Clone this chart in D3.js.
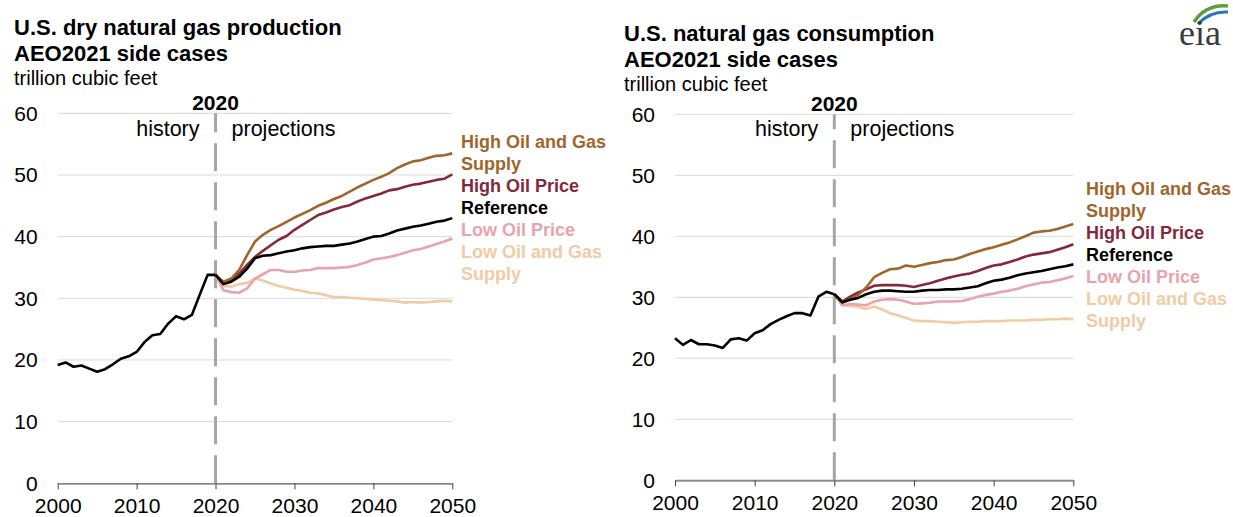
<!DOCTYPE html>
<html>
<head>
<meta charset="utf-8">
<script src="https://cdn.jsdelivr.net/npm/d3@7"></script>
<style>
  body { margin: 0; background: #fff; }
  svg { font-family: "Liberation Sans", Arial, sans-serif; }
</style>
</head>
<body>
<div id="chart"></div>
<script>
// history years and projection years
const histYears = d3.range(2000, 2021);
const projYears = d3.range(2021, 2051);
const xTicks = [2000, 2010, 2020, 2030, 2040, 2050];
const yTicks = [0, 10, 20, 30, 40, 50, 60];

const caseNames = ["High Oil and Gas Supply", "High Oil Price", "Reference", "Low Oil Price", "Low Oil and Gas Supply"];
const caseColors = ["#A0652B", "#82293B", "#000000", "#E9A3AB", "#F1CBA4"];
// legend lines (wrapped as in the picture), index into caseNames
const legendLines = [
  ["High Oil and Gas", 0], ["Supply", 0], ["High Oil Price", 1], ["Reference", 2],
  ["Low Oil Price", 3], ["Low Oil and Gas", 4], ["Supply", 4]
];

// production, trillion cubic feet
const prodHistory = [19.2, 19.6, 18.9, 19.1, 18.6, 18.1, 18.5, 19.3, 20.2, 20.6, 21.3, 22.9, 24.0, 24.2, 25.9, 27.1, 26.6, 27.3, 30.6, 33.8, 33.8];
const prodHighOG = [32.7, 33.2, 34.6, 37.0, 39.2, 40.3, 41.1, 41.7, 42.4, 43.1, 43.7, 44.3, 45.0, 45.5, 46.1, 46.6, 47.3, 48.0, 48.6, 49.2, 49.7, 50.3, 51.1, 51.7, 52.2, 52.4, 52.8, 53.1, 53.2, 53.5];
const prodHighPrice = [32.5, 33.1, 34.0, 35.4, 36.7, 37.7, 38.6, 39.5, 40.1, 41.1, 41.9, 42.7, 43.5, 43.9, 44.4, 44.8, 45.1, 45.7, 46.2, 46.6, 47.0, 47.5, 47.7, 48.1, 48.4, 48.6, 48.9, 49.2, 49.4, 50.1];
const prodReference = [32.3, 32.7, 33.5, 34.8, 36.5, 36.9, 37.0, 37.3, 37.6, 37.8, 38.1, 38.3, 38.4, 38.5, 38.5, 38.7, 38.9, 39.2, 39.6, 40.0, 40.1, 40.5, 41.0, 41.3, 41.6, 41.8, 42.1, 42.4, 42.6, 43.0];
const prodLowPrice = [31.3, 31.0, 30.9, 31.6, 33.2, 33.9, 34.6, 34.6, 34.3, 34.3, 34.5, 34.6, 34.9, 34.9, 34.9, 35.0, 35.1, 35.4, 35.8, 36.3, 36.5, 36.7, 37.0, 37.4, 37.8, 38.0, 38.4, 38.8, 39.2, 39.7];
const prodLowOG = [32.0, 31.9, 32.3, 32.5, 33.2, 32.9, 32.4, 32.0, 31.7, 31.4, 31.2, 30.9, 30.8, 30.5, 30.2, 30.2, 30.1, 30.0, 29.9, 29.8, 29.7, 29.6, 29.5, 29.3, 29.4, 29.3, 29.4, 29.5, 29.6, 29.5];

// consumption, trillion cubic feet
const consHistory = [23.3, 22.2, 23.0, 22.3, 22.3, 22.1, 21.7, 23.1, 23.3, 22.9, 24.1, 24.6, 25.6, 26.3, 26.9, 27.4, 27.4, 27.0, 30.1, 30.9, 30.5];
const consHighOG = [29.1, 29.7, 30.4, 31.6, 33.3, 34.0, 34.6, 34.7, 35.2, 35.0, 35.3, 35.6, 35.8, 36.1, 36.2, 36.6, 37.1, 37.5, 37.9, 38.2, 38.6, 39.0, 39.5, 40.0, 40.6, 40.8, 40.9, 41.2, 41.6, 42.0];
const consHighPrice = [29.3, 30.1, 30.8, 31.3, 31.9, 32.0, 32.0, 32.0, 31.9, 31.7, 32.0, 32.3, 32.7, 33.1, 33.4, 33.7, 33.9, 34.3, 34.8, 35.2, 35.4, 35.8, 36.2, 36.7, 37.0, 37.2, 37.4, 37.8, 38.2, 38.7];
const consReference = [29.2, 29.6, 29.9, 30.5, 30.9, 31.1, 31.1, 31.0, 30.9, 30.9, 31.1, 31.2, 31.2, 31.3, 31.3, 31.4, 31.6, 31.8, 32.3, 32.7, 32.9, 33.2, 33.6, 33.9, 34.1, 34.3, 34.6, 34.9, 35.1, 35.4];
const consLowPrice = [28.7, 28.9, 28.8, 28.7, 29.3, 29.6, 29.7, 29.6, 29.3, 28.9, 29.0, 29.1, 29.3, 29.3, 29.3, 29.4, 29.7, 30.1, 30.4, 30.6, 30.9, 31.1, 31.4, 31.8, 32.1, 32.4, 32.5, 32.8, 33.1, 33.5];
const consLowOG = [28.7, 28.6, 28.4, 28.1, 28.5, 28.0, 27.4, 27.0, 26.6, 26.2, 26.1, 26.1, 26.0, 25.9, 25.8, 25.9, 26.0, 26.0, 26.1, 26.1, 26.1, 26.2, 26.2, 26.2, 26.3, 26.3, 26.4, 26.4, 26.5, 26.4];

const W = 1233, H = 517;
const svg = d3.select("#chart").append("svg").attr("width", W).attr("height", H);

const panels = [
  {
    title: ["U.S. dry natural gas production", "AEO2021 side cases"],
    titleX: 14, titleY: 35,
    x: [57.7, 452.3], y: [483.3, 113.3],
    history: prodHistory,
    cases: [prodHighOG, prodHighPrice, prodReference, prodLowPrice, prodLowOG],
    legendX: 461, legendY: 148,
    axisColor: "#595959", axisWidth: 1.3
  },
  {
    title: ["U.S. natural gas consumption", "AEO2021 side cases"],
    titleX: 624, titleY: 41,
    x: [675, 1073.3], y: [480.3, 114.3],
    history: consHistory,
    cases: [consHighOG, consHighPrice, consReference, consLowPrice, consLowOG],
    legendX: 1086, legendY: 195,
    axisColor: "#8C8C8C", axisWidth: 2
  }
];

panels.forEach(p => {
  const g = svg.append("g");
  const x = d3.scaleLinear().domain([2000, 2050]).range(p.x);
  const y = d3.scaleLinear().domain([0, 60]).range(p.y);

  // Titles
  p.title.forEach((t, i) => {
    g.append("text")
      .attr("x", p.titleX).attr("y", p.titleY + i * 26)
      .attr("font-size", 22).attr("font-weight", "bold").attr("fill", "#000")
      .text(t);
  });
  g.append("text")
    .attr("x", p.titleX).attr("y", p.titleY + 50)
    .attr("font-size", 20).attr("fill", "#000")
    .text("trillion cubic feet");

  // Gridlines
  g.append("g").selectAll("line")
    .data(yTicks.filter(d => d > 0))
    .join("line")
    .attr("x1", p.x[0]).attr("x2", p.x[1])
    .attr("y1", d => y(d)).attr("y2", d => y(d))
    .attr("stroke", "#D9D9D9").attr("stroke-width", 1);

  // Y axis labels
  const yAxis = g.append("g")
    .attr("transform", `translate(${p.x[0]},0)`)
    .call(d3.axisLeft(y).tickValues(yTicks).tickSize(0).tickPadding(20));
  yAxis.select(".domain").remove();
  yAxis.selectAll("text").attr("font-size", 21).attr("fill", "#000")
    .attr("font-family", "\"Liberation Sans\", Arial, sans-serif");

  // X axis
  const xAxis = g.append("g")
    .attr("transform", `translate(0,${y(0)})`)
    .call(d3.axisBottom(x).tickValues(xTicks).tickFormat(d3.format("d")).tickSize(6).tickPadding(9).tickSizeOuter(0));
  xAxis.select(".domain").attr("stroke", p.axisColor).attr("stroke-width", p.axisWidth);
  xAxis.selectAll(".tick line").attr("stroke", "#404040");
  xAxis.selectAll("text").attr("font-size", 21).attr("fill", "#000")
    .attr("font-family", "\"Liberation Sans\", Arial, sans-serif");

  // 2020 divider, dashes laid out from the axis upward
  g.append("line")
    .attr("x1", x(2020)).attr("x2", x(2020))
    .attr("y1", y(0)).attr("y2", y(60))
    .attr("stroke", "#A6A6A6").attr("stroke-width", 3)
    .attr("stroke-dasharray", "28,11");

  g.append("text")
    .attr("x", x(2020)).attr("y", y(60) - 3)
    .attr("text-anchor", "middle").attr("font-size", 21).attr("font-weight", "bold")
    .text("2020");
  g.append("text")
    .attr("x", x(2020) - 16).attr("y", 136)
    .attr("text-anchor", "end").attr("font-size", 21.5)
    .text("history");
  g.append("text")
    .attr("x", x(2020) + 16).attr("y", 136)
    .attr("font-size", 21.5)
    .text("projections");

  const line = d3.line().x(d => x(d[0])).y(d => y(d[1]));
  const lastHist = [2020, p.history[p.history.length - 1]];

  // Cases: draw reference last so it sits on top
  const order = [4, 3, 1, 0, 2];
  order.forEach(i => {
    const pts = [lastHist].concat(projYears.map((yr, j) => [yr, p.cases[i][j]]));
    g.append("path")
      .datum(pts)
      .attr("d", line)
      .attr("fill", "none")
      .attr("stroke", caseColors[i])
      .attr("stroke-width", 2.6)
      .attr("stroke-linejoin", "round");
  });

  g.append("path")
    .datum(histYears.map((yr, j) => [yr, p.history[j]]))
    .attr("d", line)
    .attr("fill", "none")
    .attr("stroke", "#000")
    .attr("stroke-width", 2.6)
    .attr("stroke-linejoin", "round");

  // Labels at line ends
  legendLines.forEach((l, i) => {
    g.append("text")
      .attr("x", p.legendX).attr("y", p.legendY + i * 22)
      .attr("font-size", 18).attr("font-weight", "bold")
      .attr("fill", caseColors[l[1]])
      .text(l[0]);
  });
});

// eia logo
const logo = svg.append("g").attr("transform", "translate(1178,0)");
logo.append("path")
  .attr("d", "M 16 22 Q 28 4 50 6")
  .attr("fill", "none").attr("stroke", "#5E9E3A").attr("stroke-width", 3.5);
logo.append("path")
  .attr("d", "M 20 24 Q 32 11 50 12")
  .attr("fill", "none").attr("stroke", "#2A76B9").attr("stroke-width", 3);
logo.append("text")
  .attr("x", 1).attr("y", 45)
  .attr("font-family", "\"Liberation Serif\", \"DejaVu Serif\", serif")
  .attr("font-size", 36).attr("fill", "#3a3a3a")
  .text("eia");
</script>
</body>
</html>
